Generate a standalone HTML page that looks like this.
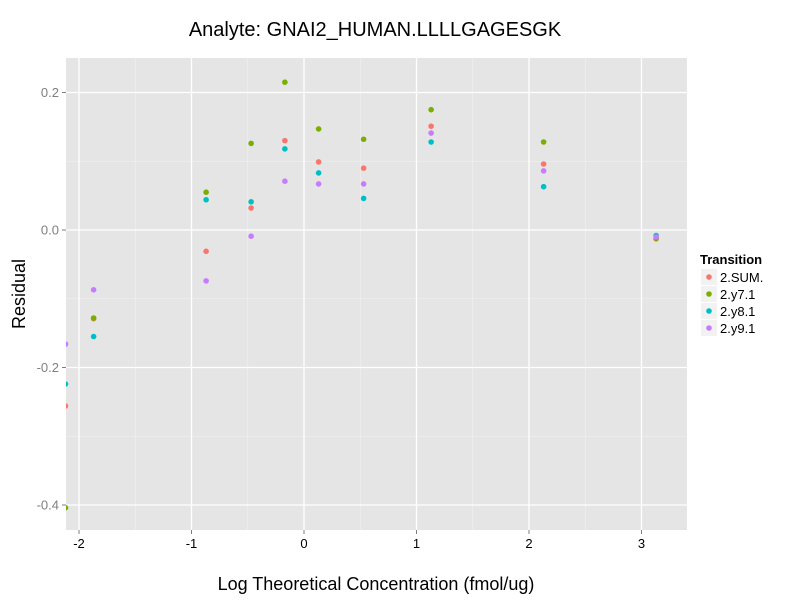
<!DOCTYPE html>
<html><head><meta charset="utf-8"><style>
body{margin:0;background:#fff}
text{font-family:"Liberation Sans",sans-serif}
</style></head><body>
<svg id="chart" width="800" height="600" xmlns="http://www.w3.org/2000/svg">
<text x="375" y="36" font-size="20" text-anchor="middle" fill="#000">Analyte: GNAI2_HUMAN.LLLLGAGESGK</text>
<defs><clipPath id="clip"><rect x="66" y="58" width="621" height="472"/></clipPath></defs>
<rect x="66" y="58" width="621" height="472" fill="#e5e5e5"/>
<g id="grid"></g>
<g id="points" clip-path="url(#clip)"></g>
<g id="axes"></g>
<text x="376" y="590" font-size="18" text-anchor="middle">Log Theoretical Concentration (fmol/ug)</text>
<text transform="translate(25,294) rotate(-90)" font-size="18" text-anchor="middle">Residual</text>
<g id="legend">
<text x="700" y="264" font-size="13" font-weight="bold">Transition</text>
</g>
</svg>
<script>
const NS="http://www.w3.org/2000/svg";
const xValues=[-2.12,-1.87,-0.87,-0.47,-0.17,0.13,0.53,1.13,2.13,3.13];
const seriesNames=["2.SUM.","2.y7.1","2.y8.1","2.y9.1"];
const seriesColors=["#F8766D","#7CAE00","#00BFC4","#C77CFF"];
const sumValues=[-0.256,-0.129,-0.031,0.032,0.130,0.099,0.090,0.151,0.096,-0.013];
const y71Values=[-0.404,-0.128,0.055,0.126,0.215,0.147,0.132,0.175,0.128,-0.012];
const y81Values=[-0.224,-0.155,0.044,0.041,0.118,0.083,0.046,0.128,0.063,-0.008];
const y91Values=[-0.166,-0.087,-0.074,-0.009,0.071,0.067,0.067,0.141,0.086,-0.010];
const xTicks=[-2,-1,0,1,2,3];
const yTicks=[-0.4,-0.2,0.0,0.2];
const yTickLabels=["-0.4","-0.2","0.0","0.2"];
const seriesValues=[sumValues,y71Values,y81Values,y91Values];
const px=v=>304+(v)*112.5;
const py=v=>230-v*687.5;
function mk(tag,attrs,parent){const e=document.createElementNS(NS,tag);for(const k in attrs)e.setAttribute(k,attrs[k]);parent.appendChild(e);return e;}
const grid=document.getElementById('grid'),axes=document.getElementById('axes'),pts=document.getElementById('points'),leg=document.getElementById('legend');
// minor grid
for(let i=0;i<xTicks.length;i++){const m=xTicks[i]+0.5;const x=px(m);if(x>66&&x<687){const l=mk('line',{x1:x,x2:x,y1:58,y2:530,stroke:'#f2f2f2','stroke-width':0.6},grid);

}}
for(let i=0;i<yTicks.length;i++){for(const m of [yTicks[i]-0.1,yTicks[i]+0.1]){const y=py(m);if(y>58&&y<530){const l=mk('line',{x1:66,x2:687,y1:y,y2:y,stroke:'#f2f2f2','stroke-width':0.6},grid);

}}}
xTicks.forEach(t=>{const x=px(t);const l=mk('line',{x1:x,x2:x,y1:58,y2:530,stroke:'#fff','stroke-width':1.3},grid);


const tk=mk('line',{x1:x,x2:x,y1:530,y2:534,stroke:'#7f7f7f'},axes);


const tx=mk('text',{x:x,y:548,'font-size':13,'text-anchor':'middle',fill:'#000'},axes);tx.textContent=String(t);

});
yTicks.forEach((t,i)=>{const y=py(t);const l=mk('line',{x1:66,x2:687,y1:y,y2:y,stroke:'#fff','stroke-width':1.3},grid);


const tk=mk('line',{x1:62,x2:66,y1:y,y2:y,stroke:'#7f7f7f'},axes);


const tx=mk('text',{x:59,y:y+4.5,'font-size':13,'text-anchor':'end',fill:'#7f7f7f'},axes);tx.textContent=yTickLabels[i];

});
seriesValues.forEach((vals,s)=>{vals.forEach((v,i)=>{const c=mk('circle',{cx:px(xValues[i]),cy:py(v),r:2.8,fill:seriesColors[s]},pts);

});
const y=277+s*17;
const k=mk('rect',{x:701,y:y-8,width:16,height:16,fill:'#f2f2f2'},leg);


const d=mk('circle',{cx:709,cy:y,r:2.8,fill:seriesColors[s]},leg);


const t=mk('text',{x:720,y:y+5,'font-size':13},leg);t.textContent=seriesNames[s];

});
</script>
</body></html>
